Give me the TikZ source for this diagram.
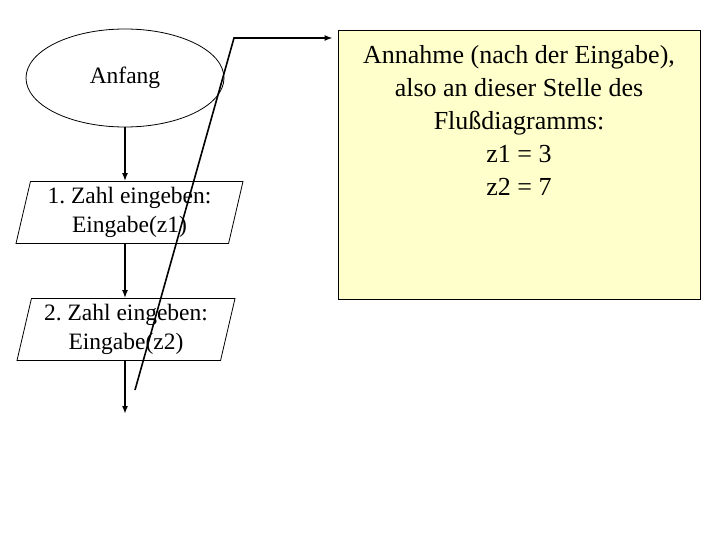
\documentclass[tikz,border=0pt]{standalone}
\usepackage{fontspec}
\setmainfont{Liberation Serif}
\frenchspacing
\usetikzlibrary{shapes.geometric,arrows.meta}
\definecolor{notegelb}{HTML}{FFFFCC}
\begin{document}
\begin{tikzpicture}[x=1pt, y=-1pt, >={Latex[length=8pt,width=6pt]},
  startbox/.style={draw, ellipse, line width=0.8pt, minimum width=198pt, minimum height=98pt, inner sep=0pt, font=\fontsize{23.5}{29}\selectfont},
  inbox/.style={draw, trapezium, trapezium left angle=74, trapezium right angle=106, trapezium stretches body, line width=0.8pt, minimum height=62pt, inner sep=0pt, align=center, font=\fontsize{23.5}{29}\selectfont},
  notebox/.style={draw, fill=notegelb, line width=0.8pt, anchor=north, text width=352pt, align=flush center, inner xsep=5pt, inner ysep=15pt, text depth=221pt, font=\fontsize{26}{33}\selectfont},
  flow/.style={->, line width=1.6pt}]
\useasboundingbox (0,0) rectangle (720,540);
\node[startbox] (a) at (125,78) {Anfang};
\node[inbox, minimum width=227pt] (z1) at (129.5,212.5) {1. Zahl eingeben:\\Eingabe(z1)};
\node[inbox, minimum width=218pt] (z2) at (126,329.5) {2. Zahl eingeben:\\Eingabe(z2)};
\node[notebox] (n) at (519,30) {Annahme (nach der Eingabe),\\also an dieser Stelle des\\Flußdiagramms:\\z1 = 3\\z2 = 7};
\coordinate (e) at (125,414);
\coordinate (p) at (135,390);
\coordinate (q) at (234,38);
\draw[flow] (a.south) -- (a.south |- z1.north);
\draw[flow] (a |- z1.south) -- (a |- z2.north);
\draw[flow] (a |- z2.south) -- (e);
\draw[flow] (p) -- (q) -- (q -| n.west) [shorten >=5pt];
\end{tikzpicture}
\end{document}
